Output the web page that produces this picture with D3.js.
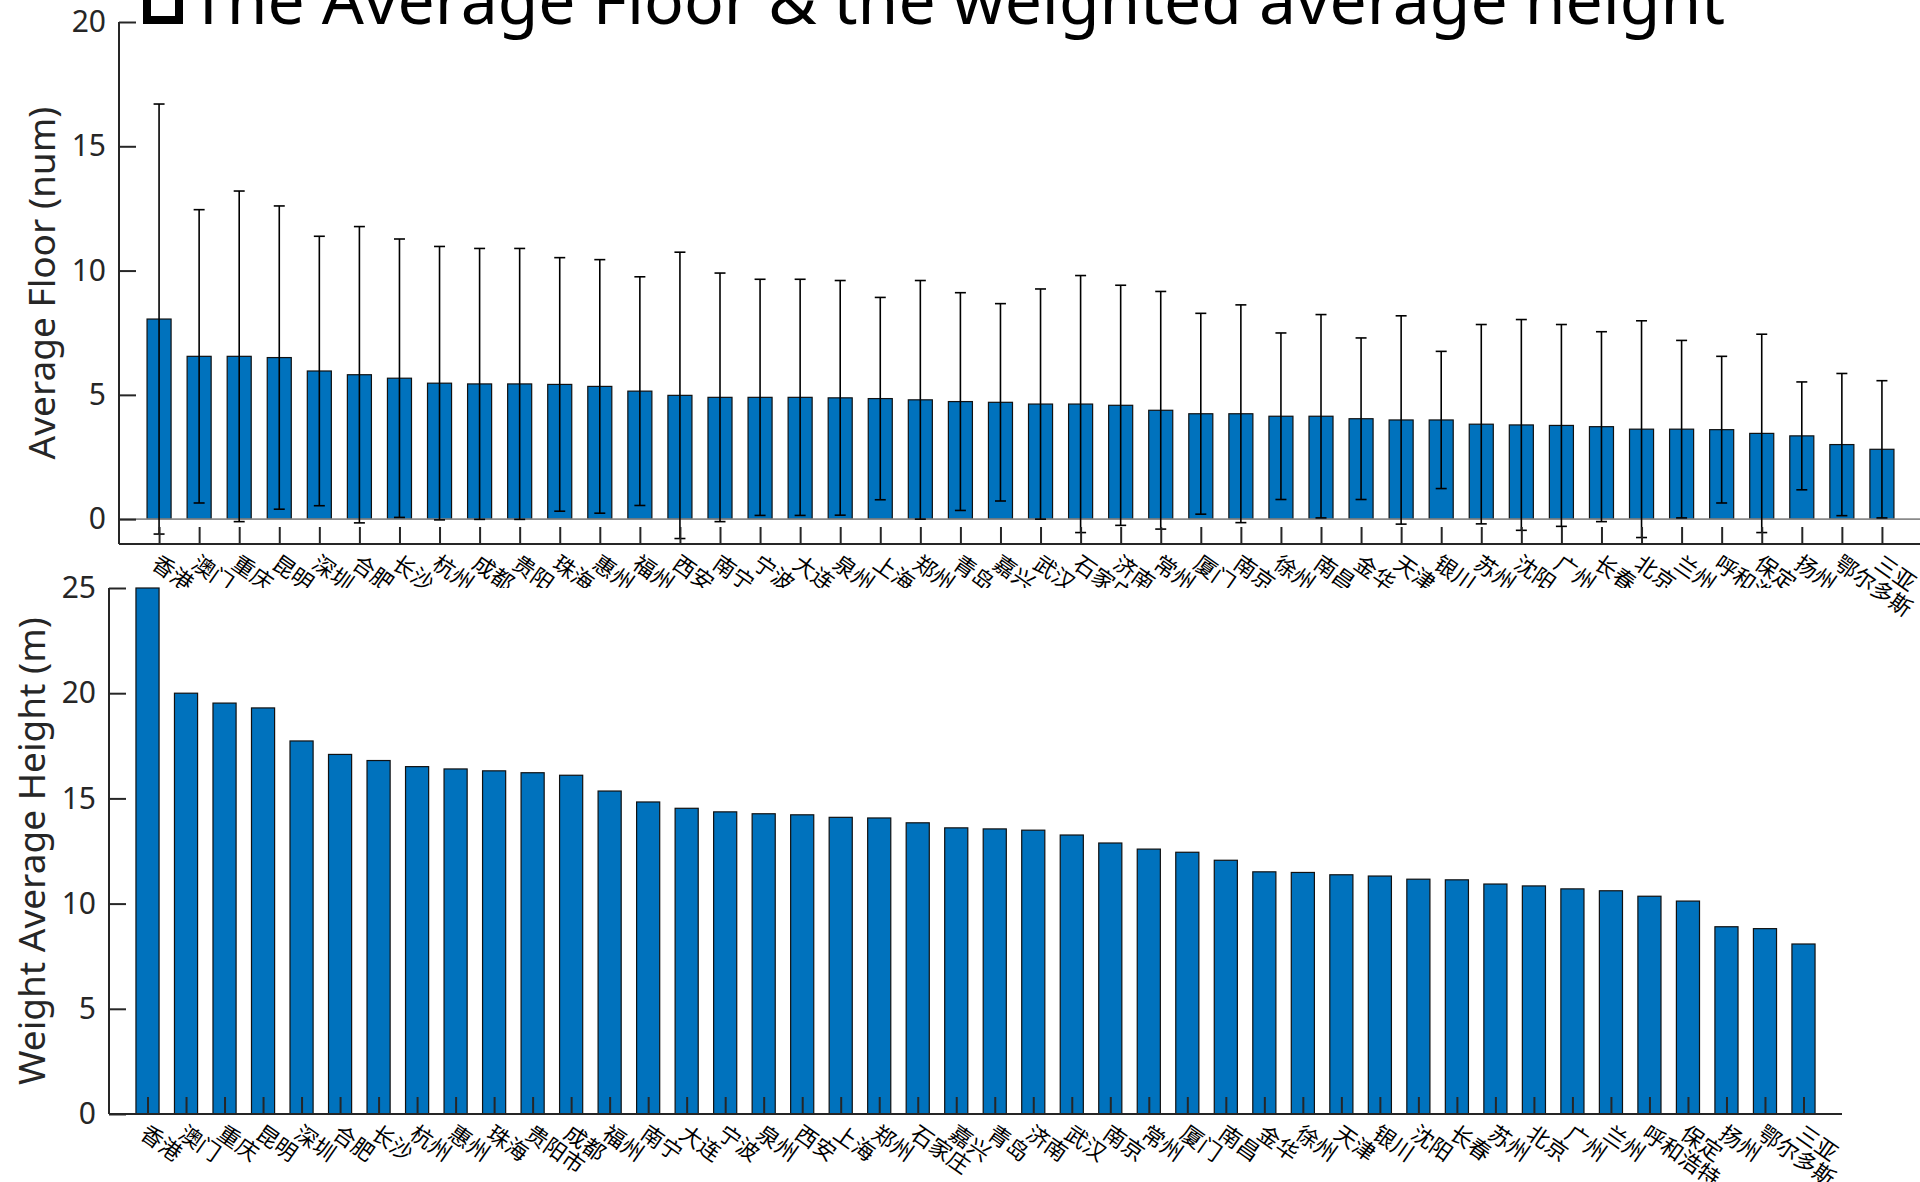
<!DOCTYPE html>
<html>
<head>
<meta charset="utf-8">
<script src="https://cdn.jsdelivr.net/npm/d3@7"></script>
<style>
  html, body { margin: 0; padding: 0; background: #fff; }
  svg { display: block; }
</style>
</head>
<body>
<svg id="fig" width="1920" height="1182"></svg>
<script>
// Average floor per city (mean ± standard deviation)
const floorCities = ["香港","澳门","重庆","昆明","深圳","合肥","长沙","杭州","成都","贵阳","珠海","惠州","福州","西安","南宁","宁波","大连","泉州","上海","郑州","青岛","嘉兴","武汉","石家庄","济南","常州","厦门","南京","徐州","南昌","金华","天津","银川","苏州","沈阳","广州","长春","北京","兰州","呼和浩特","保定","扬州","鄂尔多斯","三亚"];
const floorMean = [8.05,6.55,6.55,6.5,5.96,5.81,5.67,5.47,5.44,5.44,5.42,5.34,5.15,4.98,4.9,4.9,4.9,4.88,4.85,4.8,4.73,4.7,4.63,4.63,4.58,4.38,4.24,4.24,4.14,4.14,4.04,3.99,3.99,3.82,3.79,3.77,3.72,3.62,3.62,3.6,3.45,3.35,3.0,2.81];
const floorStd = [8.65,5.9,6.65,6.1,5.42,5.96,5.6,5.5,5.45,5.45,5.1,5.1,4.6,5.76,5.0,4.75,4.75,4.72,4.07,4.8,4.38,3.97,4.63,5.17,4.83,4.78,4.04,4.38,3.35,4.09,3.25,4.19,2.76,4.01,4.24,4.06,3.82,4.36,3.57,2.95,3.99,2.17,2.86,2.76];
const floorTicks = [0, 5, 10, 15, 20];

// Weighted average building height per city
const heightCities = ["香港","澳门","重庆","昆明","深圳","合肥","长沙","杭州","惠州","珠海","贵阳市","成都","福州","南宁","大连","宁波","泉州","西安","上海","郑州","石家庄","嘉兴","青岛","济南","武汉","南京","常州","厦门","南昌","金华","徐州","天津","银川","沈阳","长春","苏州","北京","广州","兰州","呼和浩特","保定","扬州","鄂尔多斯","三亚"];
const heightValues = [25.0,20.0,19.53,19.3,17.73,17.09,16.8,16.51,16.4,16.31,16.22,16.1,15.35,14.83,14.53,14.36,14.27,14.22,14.1,14.07,13.84,13.6,13.55,13.49,13.26,12.88,12.59,12.44,12.06,11.51,11.48,11.37,11.31,11.16,11.13,10.93,10.84,10.7,10.61,10.35,10.12,8.9,8.81,8.08];
const heightTicks = [0, 5, 10, 15, 20, 25];

const titleText = "The Average Floor & the weighted average height";

const AXIS = "#262626";
const BAR = "#0072BD";
const FONT = "'Noto Sans', 'Noto Sans CJK SC', sans-serif";
const CJK = "'Noto Sans CJK SC', 'Noto Sans', sans-serif";
const TICK_LEN = 17;
const LABEL_ANGLE = 35;

const svg = d3.select("#fig");

function drawPanel(opt) {
  const g = svg.append("g");
  const x = d3.scaleLinear().domain([0, opt.cats.length + 1]).range([opt.left, opt.right]);
  const y = d3.scaleLinear().domain(opt.yDomain).range([opt.bottom, opt.top]);
  const bw = x(0.6) - x(0);

  // white axes background
  g.append("rect")
    .attr("x", opt.left).attr("y", opt.top)
    .attr("width", opt.right - opt.left).attr("height", opt.bottom - opt.top)
    .attr("fill", "#fff");

  // bars
  g.append("g").selectAll("rect").data(opt.values).join("rect")
    .attr("x", (d, i) => x(i + 1) - bw / 2)
    .attr("y", d => y(d))
    .attr("width", bw)
    .attr("height", d => y(0) - y(d))
    .attr("fill", BAR)
    .attr("stroke", "#111")
    .attr("stroke-width", 1.2);

  // baseline at zero
  if (opt.yDomain[0] < 0) {
    g.append("line")
      .attr("x1", opt.left).attr("x2", opt.right)
      .attr("y1", y(0)).attr("y2", y(0))
      .attr("stroke", "#8a8a8a").attr("stroke-width", 1.6);
  }

  // error bars
  if (opt.errors) {
    const eg = g.append("g").attr("stroke", "#000").attr("stroke-width", 1.6).attr("fill", "none");
    const cap = 5.5;
    opt.values.forEach((m, i) => {
      const cx = x(i + 1), lo = y(m - opt.errors[i]), hi = y(m + opt.errors[i]);
      eg.append("line").attr("x1", cx).attr("x2", cx).attr("y1", lo).attr("y2", hi);
      eg.append("line").attr("x1", cx - cap).attr("x2", cx + cap).attr("y1", hi).attr("y2", hi);
      eg.append("line").attr("x1", cx - cap).attr("x2", cx + cap).attr("y1", lo).attr("y2", lo);
    });
  }

  // y axis (inward ticks)
  const yAxis = d3.axisLeft(y).tickValues(opt.yTicks).tickSize(-TICK_LEN).tickPadding(13).tickFormat(d3.format("d"));
  const ya = g.append("g").attr("transform", `translate(${opt.left},0)`).call(yAxis);
  ya.select(".domain").attr("d", `M0,${opt.bottom}V${opt.top}`);

  // x axis (inward ticks)
  const xAxis = d3.axisBottom(x).tickValues(d3.range(1, opt.cats.length + 1)).tickSize(-TICK_LEN).tickFormat("");
  const xa = g.append("g").attr("transform", `translate(0,${opt.bottom})`).call(xAxis);
  xa.select(".domain").attr("d", `M${opt.left},0H${opt.right}`);

  [ya, xa].forEach(a => {
    a.select(".domain").attr("stroke", AXIS).attr("stroke-width", 2);
    a.selectAll(".tick line").attr("stroke", AXIS).attr("stroke-width", 2);
  });
  ya.selectAll(".tick text").attr("fill", AXIS).style("font-family", FONT).style("font-size", "30px");

  // rotated category labels
  g.append("g").selectAll("text").data(opt.cats).join("text")
    .attr("transform", (d, i) => `translate(${x(i + 1)},${opt.bottom}) rotate(${LABEL_ANGLE})`)
    .attr("x", 6).attr("y", 14)
    .attr("dominant-baseline", "central")
    .attr("fill", "#000")
    .style("font-family", CJK).style("font-size", "22px")
    .text(d => d);

  // y axis title
  g.append("text")
    .attr("transform", `translate(${opt.labelX},${(opt.top + opt.bottom) / 2}) rotate(-90)`)
    .attr("text-anchor", "middle")
    .attr("dominant-baseline", "central")
    .attr("fill", AXIS)
    .style("font-family", FONT).style("font-size", "37px")
    .text(opt.yLabel);
}

drawPanel({
  cats: floorCities, values: floorMean, errors: floorStd,
  left: 119, right: 1922, top: 22, bottom: 544,
  yDomain: [-1, 20], yTicks: floorTicks,
  yLabel: "Average Floor (num)", labelX: 40
});

drawPanel({
  cats: heightCities, values: heightValues, errors: null,
  left: 109, right: 1842, top: 588, bottom: 1114,
  yDomain: [0, 25], yTicks: heightTicks,
  yLabel: "Weight Average Height (m)", labelX: 30
});

// title (its leading glyph renders as a placeholder box)
const tg = svg.append("g");
tg.append("rect")
  .attr("x", 147).attr("y", -30).attr("width", 32).attr("height", 50)
  .attr("fill", "#fff").attr("stroke", "#000").attr("stroke-width", 8);
tg.append("text")
  .attr("x", 190).attr("y", 24)
  .attr("fill", "#000")
  .style("font-family", FONT).style("font-size", "66px")
  .text(titleText);
</script>
</body>
</html>
